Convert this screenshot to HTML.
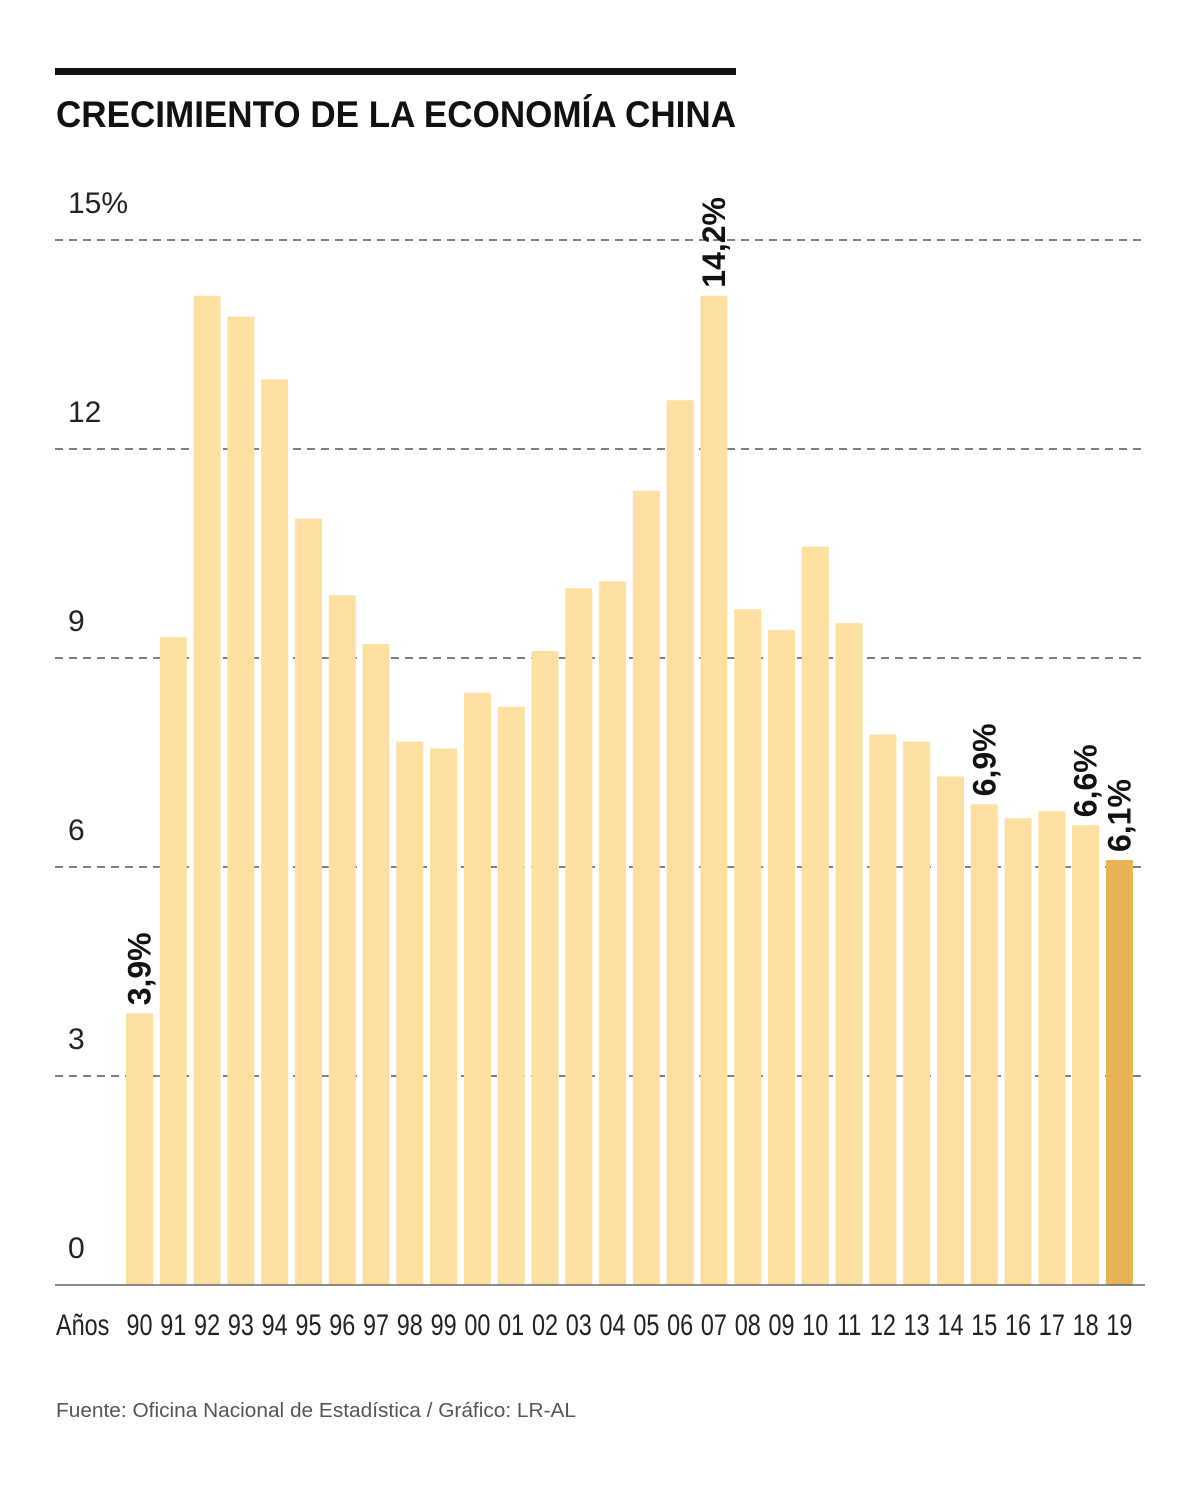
<!DOCTYPE html>
<html><head><meta charset="utf-8"><style>
body{margin:0;background:#fff;width:1200px;height:1490px;overflow:hidden;font-family:"Liberation Sans",sans-serif}
</style></head><body>
<svg id="chart" width="1200" height="1490" xmlns="http://www.w3.org/2000/svg">
<rect x="55" y="68" width="681" height="7" fill="#111"/>
<text x="56" y="127" font-size="37" font-weight="bold" fill="#111" textLength="680" lengthAdjust="spacingAndGlyphs">CRECIMIENTO DE LA ECONOMÍA CHINA</text>
<g id="grid"></g><g id="bars"></g><g id="labels"></g>
<line x1="55" x2="1145" y1="1285" y2="1285" stroke="#666" stroke-width="1.5"/>
<text x="56" y="1335" font-size="30" fill="#222" transform="translate(56 0) scale(0.78 1) translate(-56 0)">Años</text>
<text x="56" y="1417" font-size="20" fill="#555" textLength="520" lengthAdjust="spacingAndGlyphs">Fuente: Oficina Nacional de Estadística / Gráfico: LR-AL</text>
</svg>
<script>
const years=["90","91","92","93","94","95","96","97","98","99","00","01","02","03","04","05","06","07","08","09","10","11","12","13","14","15","16","17","18","19"];
const growth=[3.9,9.3,14.2,13.9,13.0,11.0,9.9,9.2,7.8,7.7,8.5,8.3,9.1,10.0,10.1,11.4,12.7,14.2,9.7,9.4,10.6,9.5,7.9,7.8,7.3,6.9,6.7,6.8,6.6,6.1];
const yTicks=[0,3,6,9,12,15];
const yTickLabels=["0","3","6","9","12","15%"];
const annotated=["90","07","15","18","19"];
const NS="http://www.w3.org/2000/svg";
const y=v=>1285-v*(1045/15);
const x=i=>126+i*33.79;
const bw=27;
const g=document.getElementById('grid'),b=document.getElementById('bars'),l=document.getElementById('labels');
function mk(tag,attrs,parent){const e=document.createElementNS(NS,tag);for(const k in attrs)e.setAttribute(k,attrs[k]);parent.appendChild(e);return e;}
yTicks.forEach((t,i)=>{
  if(t>0){const ln=mk('line',{x1:55,x2:1145,y1:y(t),y2:y(t),stroke:'#333','stroke-width':1.2,'stroke-dasharray':'8 6'},g);
  
  }
  const tx=mk('text',{x:68,y:y(t)-27,'font-size':30,fill:'#222'},g);
  tx.textContent=yTickLabels[i];
  
  
});
years.forEach((yr,i)=>{
  const v=growth[i];
  const r=mk('rect',{x:x(i),y:y(v),width:bw,height:y(0)-y(v),fill:i===years.length-1?'#E8B355':'#FDDFA2'},b);
  
  
  const cx=x(i)+bw/2;
  const tx=mk('text',{x:cx,y:1335,'font-size':30,fill:'#222','text-anchor':'middle',transform:`translate(${cx} 0) scale(0.78 1) translate(${-cx} 0)`},l);
  tx.textContent=yr;
  
  
  if(annotated.includes(yr)){
    const vy=y(v)-8;
    const vt=mk('text',{x:0,y:0,'font-size':32,'font-weight':'bold',fill:'#111',transform:`translate(${cx+11} ${vy}) rotate(-90)`},l);
    vt.textContent=v.toFixed(1).replace('.',',')+'%';
    
    
  }
});
</script>
</body></html>
